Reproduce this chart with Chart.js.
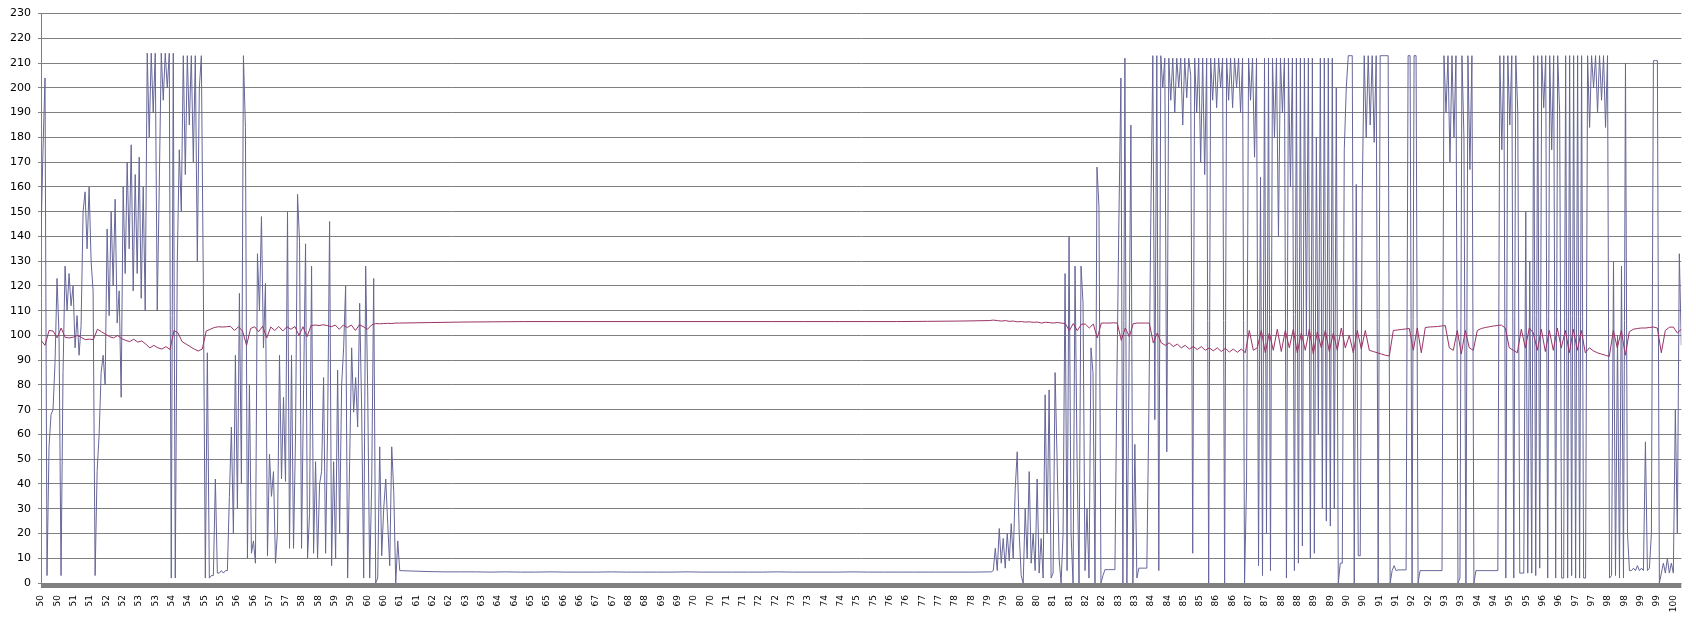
<!DOCTYPE html>
<html>
<head>
<meta charset="utf-8">
<script src="https://cdn.jsdelivr.net/npm/chart.js@4"></script>
<style>
html,body{margin:0;padding:0;background:#fff;}
#wrap{width:1696px;height:621px;}
</style>
</head>
<body>
<div id="wrap"><canvas id="c" width="1696" height="621"></canvas></div>
<script>
// x tick labels (minutes), one per label slot
const tickLabels = ["50","50","51","51","52","52","53","53","54","54","55","55","56","56","57","57","58","58","59","59","60","60","61","61","62","62","63","63","64","64","65","65","66","66","67","67","68","68","69","69","70","70","71","71","72","72","73","73","74","74","75","75","76","76","77","77","78","78","79","79","80","80","81","81","82","82","83","83","84","84","85","85","86","86","87","87","88","88","89","89","90","90","91","91","92","92","93","93","94","94","95","95","96","96","97","97","98","98","99","99","100"];

// time spans (in label-slot units) covered by each run of samples
const spanA = [0, 21.98];
const spanB = [21.98, 58.1];
const spanC = [58.1, 100.5];

// blue series samples
const blueA = [140,175,204,3,55,68,70,89,123,100,
3,85,128,110,125,112,120,95,108,92,
104,150,158,135,160,130,118,3,45,60,
85,92,80,143,108,150,120,155,105,118,
75,160,125,170,135,177,118,165,125,172,
115,160,110,214,180,214,190,214,110,160,
214,195,214,200,214,2,214,2,130,175,
150,213,165,213,185,213,170,213,130,200,
213,121,2,93,2,3,3,42,4,4,
5,4,5,5,35,63,20,92,30,117,
40,213,184,10,80,12,17,8,133,110,
148,95,121,11,52,35,45,8,21,92,
42,75,41,150,14,92,14,60,157,138,
14,78,137,10,28,128,12,49,10,40,
45,83,12,63,146,7,49,10,86,20,
80,95,120,2,49,95,69,83,63,113,
70,2,128,78,2,40,123,0,2,55,
11,30,42,24,7,55,37,0,17,5];

const blueB = [5,4.8,4.6,4.5,4.5,4.5,4.4,4.5,4.4,4.4,
4.5,4.4,4.4,4.4,4.5,4.4,4.4,4.4,4.4,4.5,
4.4,4.4,4.4,4.4,4.4,4.5,4.4,4.4,4.4,4.4,
4.5,4.4,4.4,4.4,4.4,4.4,4.4,4.4,4.4,4.5];

const blueC = [4.5,4.5,5,14,5,22,8,18,6,20,
9,24,10,38,53,20,3,0,30,10,
45,8,20,5,42,4,18,2,76,20,
78,2,4,85,50,10,0,20,125,5,
140,20,0,128,50,0,128,113,5,30,
2,95,85,0,168,152,0,3,5.4,5.4,
5.4,5.4,5.4,5.4,83,147,204,0,212,0,
80,185,0,56,2,6,6,6,6,6,
69,148,213,66,213,5,213,200,212,53,
212,195,212,190,212,200,212,185,212,196,
212,205,12,212,190,212,170,212,165,212,
0,212,195,212,192,212,200,212,0,212,
195,212,192,212,200,212,190,212,0,40,
212,195,212,172,212,7,164,3,212,20,
212,5,212,180,212,140,212,190,212,2,
212,160,212,5,212,8,212,15,212,100,
212,10,212,12,180,60,212,30,212,25,
212,23,212,30,200,0,8,8,175,200,
213,213,213,0,161,11,11,157,213,180,
213,185,213,178,213,0,213,213,213,213,
213,0,5,7,5,5.3,5.3,5.3,5.3,5.3,
213,213,0,213,213,0,5,5,5,5,
5,5,5,5,5,5,5,5,213,190,
213,170,213,180,213,0,2,213,180,0,
213,167,213,0,5,5,5,5,5,5,
5,5,5,5,5,5,213,175,213,2,
213,185,213,2,213,190,4,4,4,150,
4,130,4,213,3,213,6,213,192,213,
2,213,175,213,2,213,190,2,2,213,
2,213,3,213,2,213,2,213,2,2,
213,184,213,200,213,190,213,195,213,184,
213,2,3,130,3,100,2,128,2,210,
20,5,5,6,5,7,5,6,5,57,
5,6,20,211,211,211,0,4,8,4,
10,4,8,4,70,20,133,96];

// red series samples
const redA = [98,96,102,101.8,99,103,99.2,99,99.3,100,
99.2,98.3,98.5,98.3,102.5,101.5,100.5,99.5,99,100,
98.7,98,97.5,98.5,97.3,97.8,96.5,95,96,95,
94.5,95.5,94.3,102,101,97.5,96.5,95.5,94.5,93.7,
94.5,101.8,102.5,103.2,103.5,103.4,103.5,103.7,102,103.5,
101.8,96,102.8,103.5,101.5,103.7,99,103.4,102,103.6,
101.8,103.5,102.5,103.6,100,103.5,99.5,104,104.2,104,
104.3,104,103.5,104.2,102.5,104.2,103.2,104.2,102,104.3,
103.5,102.5,104.2,104.8,104.7,104.8,104.9,104.8,105,105];

const redB = [105,105.2,105.4,105.5,105.6,105.6,105.6,105.6,105.6,105.6,
105.6,105.6,105.6,105.6,105.6,105.6,105.6,105.7,105.8,106];

const redC = [106,106.2,106,105.8,106,105.7,105.8,105.5,105.6,105.4,
105.5,105.3,105.4,105,105.3,105.2,105,105.2,105,104.8,
101.9,104.8,101.9,104.5,104.6,103,104.6,99,105,105,
105,105.1,105,98,103,99.5,104.8,105,105,105,
105,97,101,97,96,97,95.5,96.5,95,96,
94.5,95.5,94.3,95.5,94,95,93.8,95,93.5,94.8,
93.3,94.5,93.2,94.5,93,102,94,95,102,93,
101,94,102.5,93.5,102,95,102.5,93,101,94,
102.5,92.5,101.5,95,102,93.5,101,94,103,95,
100,93,102,94.5,102,94,93.5,93,92.5,92,
91.7,102,102.2,102.4,102.6,102.8,94,103,93,103.2,
103.4,103.5,103.6,103.8,104,95,94,102,92.5,102,
95,94,102,102.8,103.2,103.5,103.8,104,104.2,103,
95,94,93,102.5,95,103,101,94,102.5,93.5,
102,94,103,95,102,93,102.5,94,102,93,
95,93.8,93,92.5,92,91.5,102,95,102,92,
101.5,102.5,102.8,103,103,103.2,103.4,103,93,102,
103.3,103.4,101,102.5];

function spread(vals, span) {
  const n = vals.length;
  return vals.map((v, i) => ({ x: span[0] + (span[1] - span[0]) * i / (n - 1), y: v }));
}

const bluePts = [].concat(spread(blueA, spanA), spread(blueB, spanB), spread(blueC, spanC));
const redPts = [].concat(spread(redA, spanA), spread(redB, spanB), spread(redC, spanC));

const axisBar = {
  id: 'axisBar',
  afterDatasetsDraw(chart) {
    const { ctx, chartArea: a } = chart;
    ctx.save();
    ctx.fillStyle = '#808080';
    ctx.fillRect(a.left, a.bottom, a.right - a.left, 5);
    ctx.restore();
  }
};

Chart.defaults.font.family = "'DejaVu Sans', Verdana, sans-serif";
Chart.defaults.color = '#000';

new Chart(document.getElementById('c'), {
  type: 'line',
  data: {
    datasets: [
      { label: 'red', data: redPts, borderColor: '#993366', borderWidth: 1, pointRadius: 0, tension: 0, fill: false },
      { label: 'blue', data: bluePts, borderColor: '#666699', borderWidth: 1, pointRadius: 0, tension: 0, fill: false }
    ]
  },
  options: {
    responsive: false,
    animation: false,
    devicePixelRatio: 1,
    parsing: false,
    normalized: true,
    events: [],
    layout: { padding: { top: 13, right: 8, left: 0, bottom: 0 } },
    plugins: { legend: { display: false }, tooltip: { enabled: false }, title: { display: false } },
    scales: {
      x: {
        type: 'linear',
        min: 0,
        max: 100.5,
        afterBuildTicks: s => { s.ticks = tickLabels.map((_, i) => ({ value: i })); },
        afterFit: s => { s.height = 38; },
        grid: { display: false, drawTicks: false },
        border: { display: false },
        ticks: {
          autoSkip: false,
          minRotation: 90,
          maxRotation: 90,
          padding: 12,
          color: '#000',
          font: { size: 9 },
          callback: v => tickLabels[Math.round(v)]
        }
      },
      y: {
        min: 0,
        max: 230,
        afterFit: s => { s.width = 41; },
        grid: { color: '#808080', lineWidth: 1, drawTicks: true, tickLength: 3 },
        border: { color: '#808080', width: 1 },
        ticks: { stepSize: 10, padding: 7, color: '#000', font: { size: 11 } }
      }
    }
  },
  plugins: [axisBar]
});
</script>
</body>
</html>
